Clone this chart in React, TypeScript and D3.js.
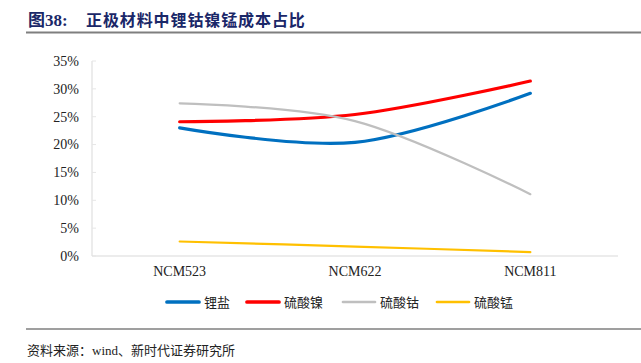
import React from "react";
import * as d3 from "d3";

const categories = ["NCM523", "NCM622", "NCM811"];
const lithium = [23.0, 20.4, 29.2];
const nickelSulfate = [24.1, 25.4, 31.4];
const cobaltSulfate = [27.4, 24.2, 11.1];
const manganeseSulfate = [2.6, 1.7, 0.7];
const yTicks = [0, 5, 10, 15, 20, 25, 30, 35];
const seriesNames = ["锂盐", "硫酸镍", "硫酸钴", "硫酸锰"];

const W = 641, H = 363;
const left = 92, right = 618, top = 61, bottom = 256;

export default function App() {
  const x = d3.scaleBand<string>().domain(categories).range([left, right]);
  const y = d3.scaleLinear().domain([0, 35]).range([bottom, top]);
  const line = d3
    .line<number>()
    .x((_, i) => (x(categories[i]) as number) + x.bandwidth() / 2)
    .y((d) => y(d))
    .curve(d3.curveCardinal.tension(0));

  const series = [
    { name: seriesNames[0], data: lithium, color: "#0070C0", w: 3.2 },
    { name: seriesNames[1], data: nickelSulfate, color: "#FF0000", w: 3.2 },
    { name: seriesNames[2], data: cobaltSulfate, color: "#BFBFBF", w: 2.2 },
    { name: seriesNames[3], data: manganeseSulfate, color: "#FFC000", w: 2.2 },
  ];
  const legendX = [167, 247, 343, 437];

  return (
    <svg width={W} height={H} style={{ position: "absolute", left: 0, top: 0, background: "#fff" }}>
      <text x={28} y={26} fontFamily="'Liberation Serif', 'Noto Sans CJK SC'" fontWeight="bold" fontSize={17} fill="#1a2768">
        图38:
      </text>
      <text x={86} y={26} fontFamily="'Noto Sans CJK SC'" fontWeight="bold" fontSize={16} letterSpacing={0.9} fill="#1a2768">
        正极材料中锂钴镍锰成本占比
      </text>
      <line x1={26} x2={641} y1={32.5} y2={32.5} stroke="#7f7f7f" strokeWidth={2} />

      <line x1={left} x2={left} y1={top} y2={bottom} stroke="#D9D9D9" />
      <line x1={left} x2={right} y1={bottom} y2={bottom} stroke="#D9D9D9" />
      {yTicks.map((t) => (
        <g key={t}>
          <line x1={left} x2={left + 4} y1={y(t)} y2={y(t)} stroke="#E6E6E6" />
          <text x={79} y={y(t)} dy="0.35em" textAnchor="end" fontFamily="'Liberation Serif'" fontSize={14} fill="#222">
            {t}%
          </text>
        </g>
      ))}
      {categories.map((c) => (
        <text key={c} x={(x(c) as number) + x.bandwidth() / 2} y={276} textAnchor="middle" fontFamily="'Liberation Serif'" fontSize={14} fill="#222">
          {c}
        </text>
      ))}

      {series.map((s) => (
        <path key={s.name} d={line(s.data) as string} fill="none" stroke={s.color} strokeWidth={s.w} strokeLinecap="round" />
      ))}

      {series.map((s, i) => (
        <g key={s.name}>
          <line x1={legendX[i]} x2={legendX[i] + 32} y1={302} y2={302} stroke={s.color} strokeWidth={s.w + 0.5} strokeLinecap="round" />
          <text x={legendX[i] + 37} y={302} dy="0.36em" fontFamily="'Noto Sans CJK SC'" fontSize={13} fill="#222">
            {s.name}
          </text>
        </g>
      ))}

      <line x1={26} x2={641} y1={329} y2={329} stroke="#7f7f7f" strokeWidth={1.5} />
      <text x={27} y={350} dy="0.35em" fontFamily="'Noto Sans CJK SC'" fontSize={13} fill="#222">
        资料来源：<tspan fontFamily="'Liberation Serif'">wind</tspan>、新时代证券研究所
      </text>
    </svg>
  );
}
